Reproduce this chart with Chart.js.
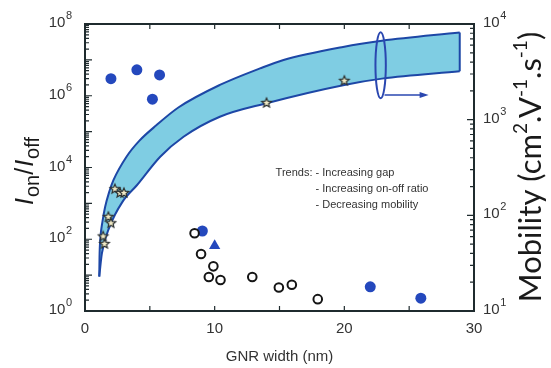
<!DOCTYPE html>
<html>
<head>
<meta charset="utf-8">
<script src="https://cdn.jsdelivr.net/npm/chart.js@4.4.1/dist/chart.umd.min.js"></script>
<style>
  html, body { margin: 0; padding: 0; background: #fff; }
  #wrap { width: 551px; height: 368px; }
</style>
</head>
<body>
<div id="wrap"><canvas id="chart" width="551" height="368"></canvas></div>
<script>
// on/off ratio (left axis)
var ratioWidth = [2.0, 4.0, 5.75, 5.2];
var ratioValue = [3.0e6, 5.3e6, 3.8e6, 8.0e5];

var starWidth = [1.4, 1.5, 1.8, 2.0, 2.3, 2.7, 3.0, 14.0, 20.0];
var starValue = [120, 74, 420, 280, 2500, 1950, 1950, 6.3e5, 2.6e6];

// shaded band (left axis)
var bandUpperWidth = [1.1, 1.12, 1.18, 1.35, 1.55, 1.85, 2.2, 3.2, 4.2, 5.5, 7.2, 10.4, 13.5, 15.25, 19.9, 22.9, 28.9];
var bandUpperValue = [9.1, 32, 100, 316, 794, 2000, 4500, 2.0e4, 5.6e4, 1.5e5, 4.7e5, 2.0e6, 5.8e6, 9.8e6, 2.3e7, 3.4e7, 5.8e7];
var bandLowerWidth = [1.1, 1.3, 1.9, 2.9, 4.0, 5.8, 7.6, 10.4, 14.0, 20.0, 22.9, 28.9];
var bandLowerValue = [9.1, 40, 224, 1120, 3200, 2.0e4, 7.2e4, 2.6e5, 6.2e5, 2.0e6, 3.0e6, 4.8e6];

// mobility (right axis)
var openWidth = [8.45, 8.95, 9.9, 9.55, 10.45, 12.9, 14.95, 15.95, 17.95];
var openMobility = [65, 39.5, 29.3, 22.7, 21.1, 22.7, 17.6, 18.8, 13.3];
var blueMobWidth = [9.05, 22.0, 25.9];
var blueMobility = [68.6, 17.9, 13.6];
var triWidth = [10.0];
var triMobility = [48];

// tick labels
var xTicks = [0, 10, 20, 30];
var leftDecades = [1, 10, 100, 1e3, 1e4, 1e5, 1e6, 1e7, 1e8];
var rightDecades = [10, 100, 1e3, 1e4];

// ellipse + arrow marker, and the text note
var ellipseX = 22.8, ellipseHalfW = 0.4, ellipseTop = 5.9e7, ellipseBottom = 8.5e5;
var arrowFrom = [23.1, 1.05e6], arrowTo = [26.5, 1.05e6];
var noteX = 14.7, noteY = 6.9e3;
var noteLines = ["Trends: - Increasing gap", "- Increasing on-off ratio", "- Decreasing mobility"];

function pts(xs, ys) {
  return xs.map(function(x, i) { return { x: x, y: ys[i] }; });
}

function makeStar(r) {
  var c = document.createElement("canvas");
  var s = Math.ceil(r * 2 + 4);
  c.width = s;
  c.height = s;
  var g = c.getContext("2d");
  g.beginPath();
  for (var i = 0; i < 10; i++) {
    var a = -Math.PI / 2 + i * Math.PI / 5;
    var rr = i % 2 ? r * 0.45 : r;
    g.lineTo(s / 2 + rr * Math.cos(a), s / 2 + rr * Math.sin(a));
  }
  g.closePath();
  g.fillStyle = "#f2ebc6";
  g.fill();
  g.strokeStyle = "#2b3030";
  g.lineWidth = 1.2;
  g.stroke();
  return c;
}

function drawRich(ctx, parts, cx, cy, angle) {
  var w = 0;
  parts.forEach(function(p) {
    ctx.font = p.font;
    p.w = ctx.measureText(p.t).width;
    w += p.w + (p.gap || 0);
  });
  ctx.save();
  ctx.translate(cx, cy);
  ctx.rotate(angle);
  ctx.textBaseline = "middle";
  ctx.textAlign = "left";
  var x = -w / 2;
  parts.forEach(function(p) {
    ctx.font = p.font;
    ctx.fillText(p.t, x, p.dy || 0);
    x += p.w + (p.gap || 0);
  });
  ctx.restore();
}

// "10" with a raised exponent; alignRight means x is the right edge
function drawPower(ctx, value, x, y, alignRight) {
  var p = String(Math.round(Math.log10(value)));
  ctx.font = "15px 'Liberation Sans'";
  var wb = ctx.measureText("10").width;
  ctx.font = "11px 'Liberation Sans'";
  var we = ctx.measureText(p).width;
  var x0 = alignRight ? x - wb - we - 0.5 : x;
  ctx.textAlign = "left";
  ctx.textBaseline = "middle";
  ctx.font = "15px 'Liberation Sans'";
  ctx.fillText("10", x0, y - 1);
  ctx.font = "11px 'Liberation Sans'";
  ctx.fillText(p, x0 + wb + 0.5, y - 8);
}

var blue = "#2448bd";
var bandEdge = "#1d47a6";

var decoration = {
  id: "decoration",
  afterDraw: function(chart) {
    var ctx = chart.ctx;
    var a = chart.chartArea;
    var sx = chart.scales.x, sy = chart.scales.y, sy2 = chart.scales.y2;
    ctx.save();
    ctx.strokeStyle = "#1f2b2e";
    ctx.lineWidth = 1.2;
    ctx.beginPath();
    // inward ticks, left axis
    leftDecades.forEach(function(d, i) {
      var y = sy.getPixelForValue(d);
      ctx.moveTo(a.left, y); ctx.lineTo(a.left + 7, y);
      if (i < leftDecades.length - 1) {
        for (var k = 2; k < 10; k++) {
          var ym = sy.getPixelForValue(d * k);
          ctx.moveTo(a.left, ym); ctx.lineTo(a.left + 4, ym);
        }
      }
    });
    // right axis
    rightDecades.forEach(function(d, i) {
      var y = sy2.getPixelForValue(d);
      ctx.moveTo(a.right, y); ctx.lineTo(a.right - 7, y);
      if (i < rightDecades.length - 1) {
        for (var k = 2; k < 10; k++) {
          var ym = sy2.getPixelForValue(d * k);
          ctx.moveTo(a.right, ym); ctx.lineTo(a.right - 4, ym);
        }
      }
    });
    // bottom and top
    for (var v = 5; v < 30; v += 5) {
      var x = sx.getPixelForValue(v);
      ctx.moveTo(x, a.bottom); ctx.lineTo(x, a.bottom - 5);
      ctx.moveTo(x, a.top); ctx.lineTo(x, a.top + 5);
    }
    ctx.stroke();
    ctx.lineWidth = 2;
    ctx.strokeRect(a.left, a.top, a.right - a.left, a.bottom - a.top);

    // tick labels with exponents
    ctx.fillStyle = "#333";
    leftDecades.forEach(function(d, i) {
      if (i % 2 === 0) drawPower(ctx, d, a.left - 13, sy.getPixelForValue(d), true);
    });
    rightDecades.forEach(function(d) {
      drawPower(ctx, d, a.right + 9, sy2.getPixelForValue(d), false);
    });

    // ellipse marker and arrow
    var ex = sx.getPixelForValue(ellipseX);
    var et = sy.getPixelForValue(ellipseTop), eb = sy.getPixelForValue(ellipseBottom);
    var erx = sx.getPixelForValue(ellipseX + ellipseHalfW) - ex;
    ctx.strokeStyle = "#2a47b0";
    ctx.lineWidth = 2;
    ctx.beginPath();
    ctx.ellipse(ex, (et + eb) / 2, erx, (eb - et) / 2, 0, 0, Math.PI * 2);
    ctx.stroke();
    var ax0 = sx.getPixelForValue(arrowFrom[0]), ay = sy.getPixelForValue(arrowFrom[1]);
    var ax1 = sx.getPixelForValue(arrowTo[0]);
    ctx.lineWidth = 1.5;
    ctx.beginPath();
    ctx.moveTo(ax0, ay); ctx.lineTo(ax1 - 6, ay);
    ctx.stroke();
    ctx.fillStyle = "#2a47b0";
    ctx.beginPath();
    ctx.moveTo(ax1, ay); ctx.lineTo(ax1 - 9, ay - 3); ctx.lineTo(ax1 - 9, ay + 3);
    ctx.closePath();
    ctx.fill();

    // note
    var nx = sx.getPixelForValue(noteX), ny = sy.getPixelForValue(noteY);
    ctx.fillStyle = "#333";
    ctx.font = "11px 'Liberation Sans'";
    ctx.textBaseline = "middle";
    ctx.textAlign = "left";
    ctx.fillText(noteLines[0], nx, ny);
    var indent = ctx.measureText("Trends: ").width;
    ctx.fillText(noteLines[1], nx + indent, ny + 16);
    ctx.fillText(noteLines[2], nx + indent, ny + 32);

    // axis titles
    ctx.fillStyle = "#1a1a1a";
    drawRich(ctx, [
      { t: "I", font: "italic 25px 'Liberation Sans'", gap: 1 },
      { t: "on", font: "20px 'Liberation Sans'", dy: 7 },
      { t: "/", font: "25px 'Liberation Sans'", gap: 1 },
      { t: "I", font: "italic 25px 'Liberation Sans'", gap: 1 },
      { t: "off", font: "20px 'Liberation Sans'", dy: 7 }
    ], 26, 171, -Math.PI / 2);
    drawRich(ctx, [
      { t: "Mobility (cm", font: "31px Lato" },
      { t: "2", font: "19px Lato", dy: -10 },
      { t: ".V", font: "31px Lato" },
      { t: "-1", font: "19px Lato", dy: -10 },
      { t: ".s", font: "31px Lato" },
      { t: "-1", font: "19px Lato", dy: -10 },
      { t: ")", font: "31px Lato" }
    ], 531, 167, -Math.PI / 2);
    ctx.font = "15px 'Liberation Sans'";
    ctx.fillStyle = "#333";
    ctx.textAlign = "center";
    ctx.fillText("GNR width (nm)", (a.left + a.right) / 2, 357);
    ctx.restore();
  }
};

var tickFont = { family: "'Liberation Sans'", size: 15 };

new Chart(document.getElementById("chart"), {
  type: "scatter",
  data: {
    datasets: [
      {
        data: pts(bandUpperWidth, bandUpperValue),
        yAxisID: "y",
        order: 10,
        showLine: true,
        fill: "+1",
        backgroundColor: "#7fcde3",
        borderColor: bandEdge,
        borderWidth: 2,
        pointRadius: 0,
        cubicInterpolationMode: "monotone"
      },
      {
        data: pts(bandLowerWidth, bandLowerValue),
        yAxisID: "y",
        order: 9,
        showLine: true,
        fill: false,
        borderColor: bandEdge,
        borderWidth: 2,
        pointRadius: 0,
        cubicInterpolationMode: "monotone"
      },
      {
        data: [
          { x: bandUpperWidth[bandUpperWidth.length - 1], y: bandUpperValue[bandUpperValue.length - 1] },
          { x: bandLowerWidth[bandLowerWidth.length - 1], y: bandLowerValue[bandLowerValue.length - 1] }
        ],
        yAxisID: "y",
        order: 9,
        showLine: true,
        borderColor: bandEdge,
        borderWidth: 2,
        pointRadius: 0
      },
      {
        data: pts(starWidth, starValue),
        yAxisID: "y",
        order: 1,
        pointStyle: makeStar(5),
        pointRadius: 5
      },
      {
        data: pts(ratioWidth, ratioValue),
        yAxisID: "y",
        order: 2,
        pointRadius: 5.5,
        backgroundColor: blue,
        borderColor: blue,
        borderWidth: 0
      },
      {
        data: pts(blueMobWidth, blueMobility),
        yAxisID: "y2",
        order: 4,
        pointRadius: 5.5,
        backgroundColor: blue,
        borderColor: blue,
        borderWidth: 0
      },
      {
        data: pts(openWidth, openMobility),
        yAxisID: "y2",
        order: 2,
        pointRadius: 4.3,
        backgroundColor: "#fff",
        borderColor: "#151515",
        borderWidth: 2
      },
      {
        data: pts(triWidth, triMobility),
        yAxisID: "y2",
        order: 2,
        pointStyle: "triangle",
        pointRadius: 6.5,
        backgroundColor: blue,
        borderColor: blue,
        borderWidth: 0
      }
    ]
  },
  options: {
    responsive: false,
    animation: false,
    layout: { padding: { top: 24, left: 0, right: 0, bottom: 0 } },
    plugins: { legend: { display: false }, tooltip: { enabled: false } },
    scales: {
      x: {
        type: "linear",
        position: "bottom",
        min: 0,
        max: 30,
        grid: { display: false, drawTicks: false },
        border: { display: false },
        afterBuildTicks: function(s) { s.ticks = xTicks.map(function(v) { return { value: v }; }); },
        ticks: { padding: 9, font: tickFont, color: "#333", maxRotation: 0, autoSkip: false },
        afterFit: function(s) { s.height = 57; }
      },
      y: {
        type: "logarithmic",
        position: "left",
        min: 1,
        max: 1e8,
        grid: { display: false, drawTicks: false },
        border: { display: false },
        ticks: { display: false },
        afterFit: function(s) { s.width = 85; }
      },
      y2: {
        type: "logarithmic",
        position: "right",
        min: 10,
        max: 1e4,
        grid: { display: false, drawTicks: false },
        border: { display: false },
        ticks: { display: false },
        afterFit: function(s) { s.width = 77; }
      }
    }
  },
  plugins: [decoration]
});
</script>
</body>
</html>
